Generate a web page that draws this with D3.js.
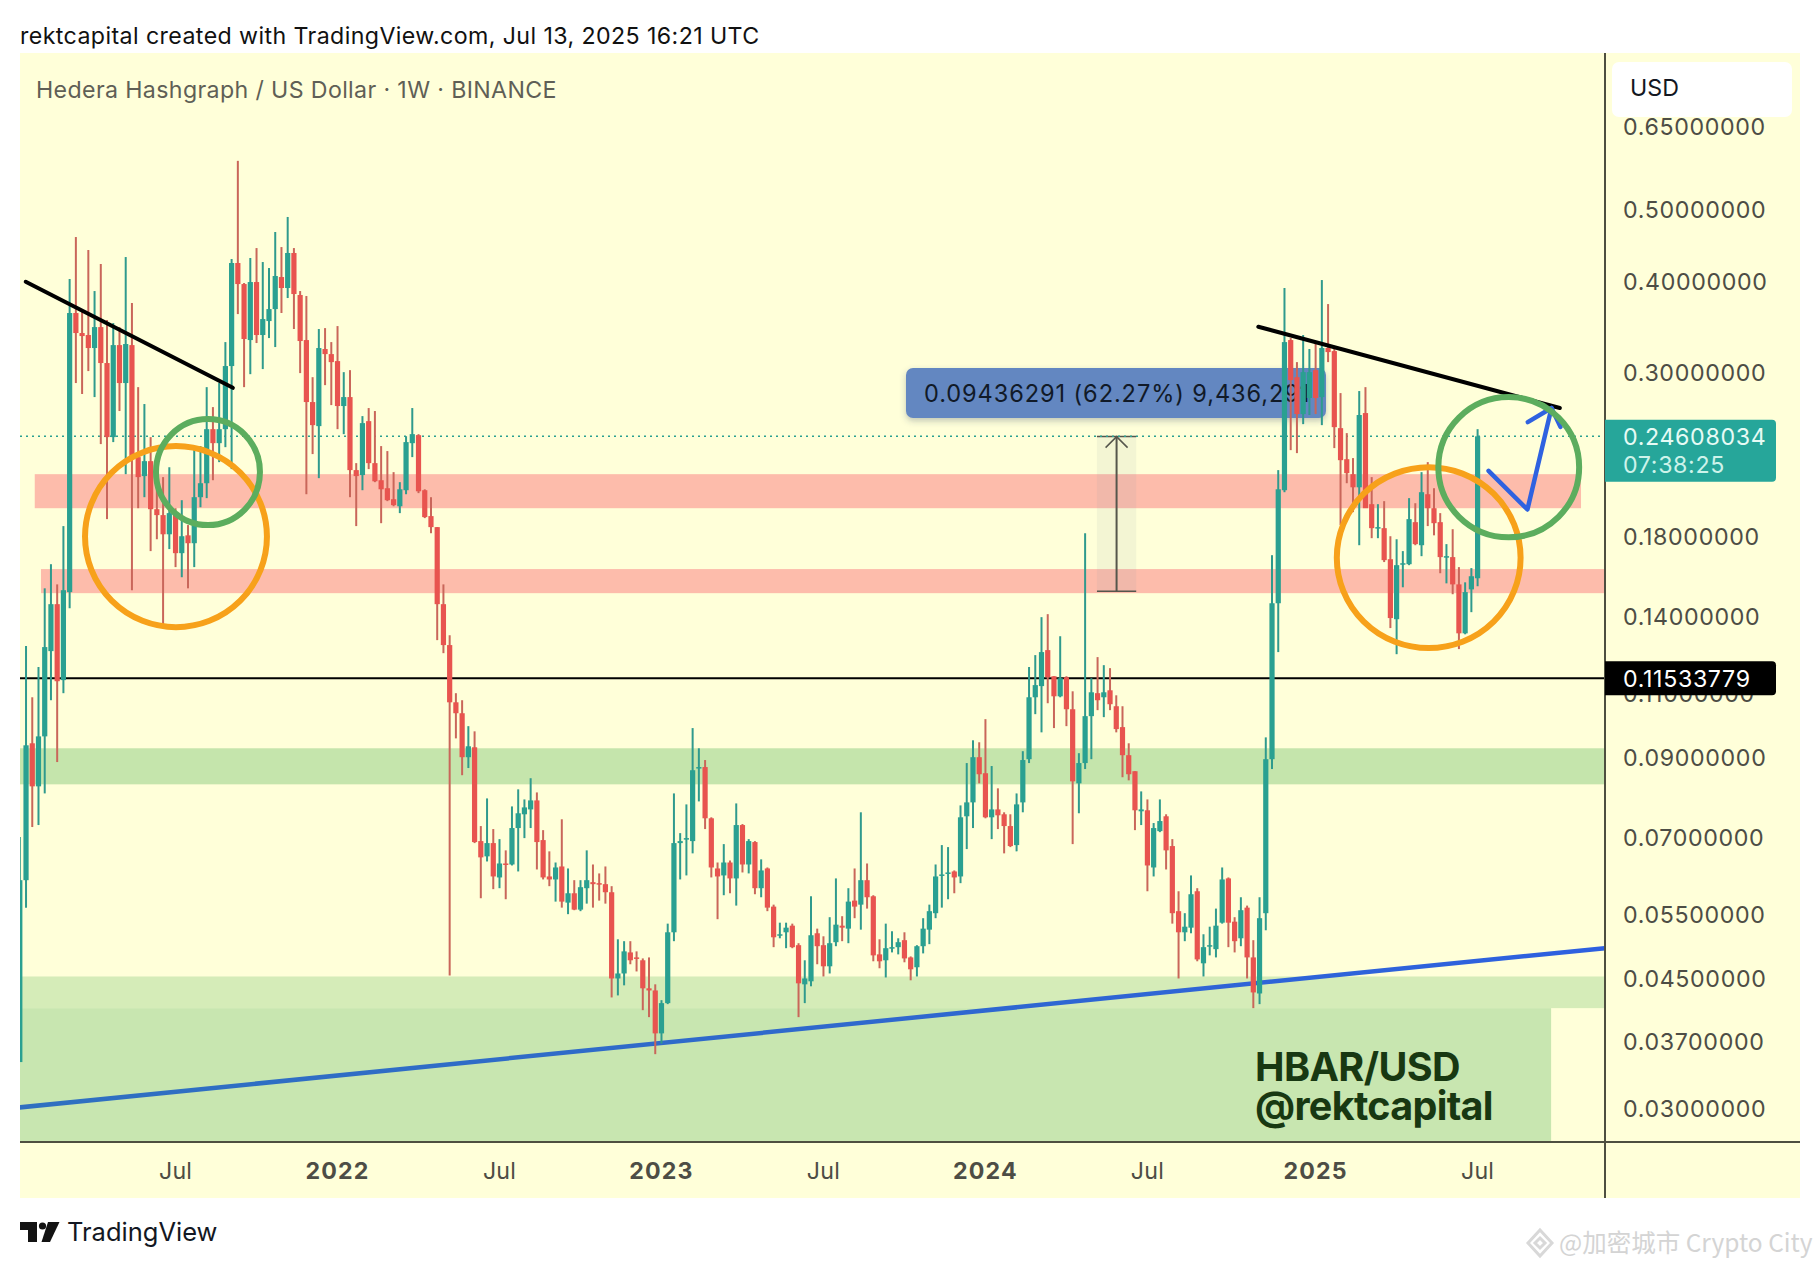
<!DOCTYPE html>
<html>
<head>
<meta charset="utf-8">
<script src="https://cdn.jsdelivr.net/npm/d3@7"></script>
<style>
  body { margin: 0; background: #fff; }
  text { font-family: Inter, "Noto Sans", sans-serif; }
</style>
</head>
<body>
<svg id="chart"></svg>
<script>
// weekly HBAR/USD candles, first week is Jan 11 2021
const opens = [
  .03468,.0613,.09411,.08224,.09617,.1256,.1455,.1147,.1511,.3621,
  .3401,.3380,.3245,.3465,.3096,.2455,.3275,.2908,.3275,.2306,
  .2173,.2277,.1959,.1923,.1811,.1935,.1707,.1805,.1761,.2034,
  .2125,.2517,.2409,.2517,.3067,.4235,.3965,.3327,.3990,.3380,
  .3531,.3666,.4053,.3916,.4370,.3831,.3327,.2740,.2541,.3235,
  .3184,.3115,.2706,.2783,.2214,.2180,.2581,.2263,.2145,.2092,
  .2021,.1977,.2079,.2409,.2470,.2079,.1917,.1852,.1455,.1280,
  .1070,.1034,.0901,.09294,.06928,.06605,.06885,.06183,.06459,.06439,
  .07217,.07535,.07651,.0787,.0695,.06202,.06144,.06399,.05714,.05884,
  .0559,.05978,.06092,.06073,.06054,.05903,.04506,.04577,.04889,.04813,
  .0477,.04369,.0434,.03794,.04171,.05207,.06885,.06971,.06928,.08709,
  .08736,.07441,.06359,.06222,.06479,.06164,.07285,.06439,.06907,.05978,
  .06359,.05643,.05159,.05207,.05316,.05001,.04424,.04466,.05191,.05001,
  .04681,.05048,.05316,.05267,.0575,.05678,.0613,.05829,.04859,.0477,
  .04954,.0497,.0508,.04813,.04667,.04985,.0525,.05528,.06222,.06261,
  .0630,.06202,.07488,.07821,.0901,.08569,.07464,.07651,.07535,.07262,
  .06842,.07821,.08954,.1087,.11257,.1260,.1161,.10903,.11573,.1047,
  .08302,.08846,.10246,.1101,.1087,.1111,.10569,.0990,.09067,.08623,
  .07606,.0763,.06379,.07148,.07488,.06821,.05563,.05207,.05283,.05921,
  .04725,.04985,.04939,.05366,.06164,.05383,.0511,.05625,.04813,.04299,
  .05528,.08954,.14592,.2079,.3327,.2962,.2639,.2775,.3028,.2783,
  .3245,.3214,.2525,.2291,.2186,.2098,.2647,.1990,.1846,.1846,
  .1675,.1388,.1649,.1649,.1881,.1750,.2053,.1965,.1881,.1686,
  .1686,.1548,.1328,.1524,.1578,
];
const highs = [
  .07015,.1276,.1087,.1195,.1529,.1649,.1548,.1858,.4028,.4594,
  .3655,.4411,.3879,.4222,.3542,.3509,.3465,.4315,.3736,.2871,
  .2723,.2455,.2335,.2166,.2234,.1965,.2015,.1864,.2357,.2387,
  .2871,.2697,.2908,.3306,.4288,.5832,.3978,.4302,.4438,.4248,
  .4169,.4667,.4452,.4892,.4438,.3879,.3819,.2962,.3444,.3454,
  .3306,.3476,.3009,.3028,.2263,.2622,.2689,.2664,.2387,.2350,
  .2200,.2132,.2462,.2689,.2478,.2085,.2034,.1852,.1548,.1320,
  .1101,.1077,.0993,.0977,.07262,.07919,.07194,.06971,.0673,.07723,
  .08147,.07894,.08436,.08069,.0717,.06709,.06479,.07418,.06359,.0613,
  .0613,.0673,.06439,.06261,.06399,.06016,.05094,.05064,.05064,.04905,
  .04798,.04813,.04424,.0421,.0535,.08044,.07103,.07772,.0987,.09265,
  .0893,.07464,.06479,.06863,.0652,.07796,.07308,.06971,.06928,.06543,
  .06379,.05678,.05366,.05366,.0535,.05032,.0477,.05829,.05267,.05142,
  .05459,.06164,.05476,.05978,.06359,.07582,.06459,.05848,.05094,.0535,
  .05224,.0511,.05207,.04828,.05001,.05442,.05678,.06439,.06842,.06799,
  .0632,.07748,.08846,.0950,.09441,.1015,.08764,.08173,.07582,.07535,
  .08044,.09181,.1195,.12404,.1397,.14102,.1161,.1316,.1161,.11075,
  .09124,.18168,.11537,.12327,.1202,.11908,.10937,.10569,.09411,.08623,
  .08095,.07894,.07331,.07894,.07535,.06971,.05921,.05528,.06222,.05978,
  .05175,.05299,.05608,.06379,.06183,.05459,.05811,.05661,.0508,.05811,
  .09587,.16962,.2214,.3916,.3348,.3105,.3380,.3235,.3296,.4015,
  .3724,.3265,.2818,.2486,.2299,.2836,.2871,.2166,.1990,.2009,
  .1800,.1783,.1718,.2028,.1996,.2200,.2270,.2092,.1935,.1756,
  .1840,.1634,.1558,.1629,.2517,
];
const lows = [
  .03468,.05625,.0724,.07285,.08044,.1077,.08874,.1101,.1437,.2908,
  .2810,.3019,.2783,.2402,.1899,.2417,.2664,.2186,.1520,.1965,
  .2034,.1718,.1783,.1354,.1729,.1634,.1583,.1529,.1634,.1971,
  .2028,.2145,.2270,.2379,.2221,.3609,.2871,.2990,.3296,.3038,
  .3348,.3255,.3621,.3795,.3444,.3000,.2053,.2328,.2159,.2889,
  .2714,.2517,.2478,.2034,.1858,.2079,.2221,.2132,.1875,.2009,
  .1977,.1935,.2053,.2306,.2060,.1905,.1817,.1300,.1248,.04548,
  .09557,.08516,.08709,.06885,.05793,.0650,.0596,.05978,.05775,.06419,
  .0630,.06993,.07217,.06339,.06144,.06016,.05732,.05625,.05511,.0558,
  .05563,.05696,.05625,.0575,.05696,.04246,.04273,.0441,.04711,.04606,
  .0408,.03992,.03555,.03675,.04158,.05064,.06144,.06222,.06667,.07845,
  .07194,.06183,.05425,.05848,.05884,.05661,.0628,.06261,.05866,.05811,
  .05563,.0497,.0511,.04954,.04954,.03992,.04171,.04397,.04711,.04534,
  .04577,.04985,.05064,.05032,.05442,.0525,.05608,.04755,.04652,.0452,
  .04889,.04859,.0474,.0448,.04534,.04874,.05017,.05442,.05625,.05775,
  .05884,.06073,.06757,.07217,.08302,.07441,.06971,.07194,.06667,.06799,
  .06709,.07582,.08846,.1031,.09739,.10669,.0987,.1087,.0993,.06863,
  .07559,.08682,.08954,.1044,.10214,.1044,.09739,.08462,.0838,.0717,
  .07285,.05921,.06202,.07125,.06339,.0535,.04506,.05064,.05191,.04755,
  .04534,.04844,.04813,.0535,.0497,.04889,.04985,.04506,.04106,.04158,
  .0524,.08682,.12522,.2066,.2357,.2335,.2557,.2631,.2639,.2549,
  .3105,.2372,.1864,.2125,.1941,.1750,.1977,.1789,.1789,.1660,
  .1350,.1244,.1534,.1644,.1750,.1691,.1858,.1805,.1603,.1553,
  .1501,.1264,.1324,.1419,.1539,
];
const closes = [
  .0613,.09352,.08224,.09617,.1272,.1455,.1143,.1520,.3621,.3401,
  .3369,.3245,.3465,.3096,.2455,.3275,.2908,.3286,.2306,.2166,
  .2277,.1959,.1923,.1811,.1935,.1707,.1800,.1761,.2034,.2125,
  .2517,.2409,.2517,.3067,.4235,.3965,.3338,.3990,.3380,.3553,
  .3666,.4066,.3916,.4370,.3843,.3317,.2740,.2549,.3245,.3184,
  .3105,.2706,.2783,.2214,.2173,.2565,.2263,.2138,.2085,.2015,
  .1984,.2085,.2417,.2478,.2072,.1911,.1852,.1455,.1280,.1070,
  .1034,.0901,.09323,.06907,.06584,.06885,.06202,.06459,.06439,.07217,
  .07559,.07699,.0787,.06907,.06183,.06144,.06379,.05732,.05884,.0559,
  .05997,.0613,.06054,.06054,.05903,.04506,.04577,.04905,.0477,.04798,
  .04369,.0434,.03794,.04171,.05207,.06885,.06928,.06993,.0865,.08736,
  .07441,.06379,.06202,.06479,.06164,.07285,.06439,.06928,.05978,.0632,
  .05625,.05126,.05175,.05283,.0497,.04438,.04506,.05159,.04985,.04681,
  .05032,.05333,.05283,.05732,.05643,.0613,.05811,.04844,.04755,.04954,
  .0497,.05048,.04798,.04637,.04985,.05267,.05563,.06202,.06241,.0628,
  .06183,.07464,.07821,.0901,.08542,.07464,.07651,.07511,.07262,.06821,
  .07772,.0893,.1087,.11292,.12522,.11573,.10903,.11537,.1047,.08354,
  .08846,.10246,.11041,.1077,.11041,.10636,.09839,.09067,.08542,.0763,
  .07651,.06419,.07217,.07377,.0673,.05528,.05207,.05299,.05866,.04783,
  .0497,.05001,.05316,.06144,.05366,.05064,.0558,.04813,.04313,.05442,
  .08954,.14592,.2085,.3306,.2935,.2639,.3009,.3009,.2775,.3245,
  .3204,.2533,.2284,.2193,.2098,.2631,.1965,.1846,.1852,.1670,
  .1393,.1644,.1654,.1899,.1756,.2066,.1965,.1875,.1686,.1691,
  .1548,.1328,.1511,.1588,.24608,
];

const priceTicks = [0.65, 0.5, 0.4, 0.3, 0.18, 0.14, 0.11, 0.09, 0.07, 0.055, 0.045, 0.037, 0.03];
const timeTickWeeks = [25, 51, 77, 103, 129, 155, 181, 208, 234];
const timeTickLabels = ["Jul", "2022", "Jul", "2023", "Jul", "2024", "Jul", "2025", "Jul"];

const lastPrice = 0.24608034;
const levelPrice = 0.11533779;

// zones: [week from, week to, price top, price bottom]
const zoneTopRed = [2.4, 250.6, 0.2186, 0.1965];
const zoneLowRed = [3.4, 254.4, 0.1624, 0.1506];
const zoneGreen = [0, 254.4, 0.09265, 0.08276];
const zoneLightGreen = [0, 254.4, 0.04534, 0.04106];
const zoneBottomGreen = [0, 245.8, 0.04106, 0.02];

// drawn lines as [week, price]
const trendBlue = [[0, 0.03009], [254.4, 0.04954]];
const trendLeft = [[0.95, 0.3994], [34.2, 0.2865]];
const trendRight = [[198.8, 0.3469], [247.2, 0.2689]];
const pathArrow = [[235.76, 0.2209], [242, 0.1957], [245.86, 0.2689]];
const pathArrowHead = [[242.05, 0.2573], [245.86, 0.2689], [247.3, 0.2535]];

// ellipses: [left week, right week, top price, bottom price]
const ringOrangeLeft = [10.47, 39.67, 0.2387, 0.1354];
const ringGreenLeft = [21.86, 38.55, 0.2598, 0.1864];
const ringOrangeRight = [211.4, 240.9, 0.2234, 0.1268];
const ringGreenRight = [227.7, 250.3, 0.2783, 0.1794];

// price range tool: [left week, right week, top price, bottom price]
const measureBox = [172.9, 179.2, 0.2459, 0.1515];

const width = 1820;
const height = 1268;
const panel = { left: 20, right: 1800, top: 53, bottom: 1198 };
const plot = { left: 20, right: 1605, top: 53, bottom: 1142 };

const axisColor = "#4e4f40";
const labelColor = "#4d4d45";
const up = "#2aa091";
const down = "#e8544f";
const upWick = "#2f9a8d";
const downWick = "#c9665a";

const svg = d3.select("#chart").attr("width", width).attr("height", height);

const xScale = d3.scaleLinear().domain([0, 234]).range([19.8, 1477.6]);
const yScale = d3.scaleLog().domain([0.8175, 0.027]).range([plot.top, plot.bottom]);

const defs = svg.append("defs");
defs.append("clipPath").attr("id", "plotClip").append("rect")
  .attr("x", plot.left).attr("y", plot.top)
  .attr("width", plot.right - plot.left).attr("height", plot.bottom - plot.top);

const blueGradient = defs.append("linearGradient")
  .attr("id", "blueTrend").attr("gradientUnits", "userSpaceOnUse")
  .attr("x1", plot.left).attr("x2", plot.right).attr("y1", 0).attr("y2", 0);
blueGradient.append("stop").attr("offset", "0%").attr("stop-color", "#2f70c0");
blueGradient.append("stop").attr("offset", "50%").attr("stop-color", "#2f69cc");
blueGradient.append("stop").attr("offset", "100%").attr("stop-color", "#2e60e0");

const labelShadow = defs.append("filter").attr("id", "labelShadow")
  .attr("x", "-5%").attr("y", "-20%").attr("width", "110%").attr("height", "150%");
labelShadow.append("feDropShadow").attr("dx", 0).attr("dy", 3).attr("stdDeviation", 3)
  .attr("flood-color", "#3b4a66").attr("flood-opacity", 0.3);

svg.append("text").attr("x", 20).attr("y", 44)
  .attr("font-size", 23.2).attr("letter-spacing", 0.4).attr("fill", "#111")
  .text("rektcapital created with TradingView.com, Jul 13, 2025 16:21 UTC");

svg.append("rect").attr("x", panel.left).attr("y", panel.top)
  .attr("width", panel.right - panel.left).attr("height", panel.bottom - panel.top)
  .attr("fill", "#ffffd9");

const chart = svg.append("g").attr("clip-path", "url(#plotClip)");

const drawZone = (zone, color) => {
  const [x0, x1, top, bottom] = zone;
  chart.append("rect")
    .attr("x", xScale(x0)).attr("width", xScale(x1) - xScale(x0))
    .attr("y", yScale(top)).attr("height", yScale(bottom) - yScale(top))
    .attr("fill", color);
};
drawZone(zoneTopRed, "#fdbcab");
drawZone(zoneLowRed, "#fdbcab");
drawZone(zoneGreen, "#c5e5ac");
drawZone(zoneLightGreen, "#d5ecb8");
drawZone(zoneBottomGreen, "#c8e6b0");

const line = d3.line().x((d) => xScale(d[0])).y((d) => yScale(d[1]));

// price range tool sits under the candles
const [mx0, mx1, mTop, mBottom] = measureBox;
const mCenter = (xScale(mx0) + xScale(mx1)) / 2;
chart.append("rect")
  .attr("x", xScale(mx0)).attr("width", xScale(mx1) - xScale(mx0))
  .attr("y", yScale(mTop)).attr("height", yScale(mBottom) - yScale(mTop))
  .attr("fill", "#8a9aa8").attr("fill-opacity", 0.1);
chart.append("line").attr("x1", mCenter).attr("x2", mCenter)
  .attr("y1", yScale(mTop)).attr("y2", yScale(mBottom))
  .attr("stroke", "#55564c").attr("stroke-width", 2);
[mTop, mBottom].forEach((p) => {
  chart.append("line").attr("x1", xScale(mx0)).attr("x2", xScale(mx1))
    .attr("y1", yScale(p)).attr("y2", yScale(p))
    .attr("stroke", "#55564c").attr("stroke-width", 1.5);
});
chart.append("path")
  .attr("d", `M${mCenter - 11},${yScale(mTop) + 11}L${mCenter},${yScale(mTop)}L${mCenter + 11},${yScale(mTop) + 11}`)
  .attr("fill", "none").attr("stroke", "#55564c").attr("stroke-width", 1.5);

chart.append("rect")
  .attr("x", 906).attr("y", 368).attr("width", 420).attr("height", 50).attr("rx", 7)
  .attr("fill", "#6487c1").attr("filter", "url(#labelShadow)");
chart.append("text").attr("x", 924).attr("y", 402)
  .attr("font-size", 23.6).attr("letter-spacing", 0.9).attr("fill", "#111a28")
  .text("0.09436291 (62.27%) 9,436,291");

chart.append("line")
  .attr("x1", plot.left).attr("x2", plot.right)
  .attr("y1", yScale(lastPrice)).attr("y2", yScale(lastPrice))
  .attr("stroke", up).attr("stroke-width", 1.5).attr("stroke-dasharray", "2,4");

chart.append("path").attr("d", line(trendBlue))
  .attr("fill", "none").attr("stroke", "url(#blueTrend)").attr("stroke-width", 4.5);

chart.append("line")
  .attr("x1", plot.left).attr("x2", plot.right)
  .attr("y1", yScale(levelPrice)).attr("y2", yScale(levelPrice))
  .attr("stroke", "#000").attr("stroke-width", 2);

const weeks = d3.range(opens.length);

chart.selectAll(".wick").data(weeks).enter().append("line")
  .attr("class", "wick")
  .attr("x1", (i) => xScale(i)).attr("x2", (i) => xScale(i))
  .attr("y1", (i) => yScale(highs[i])).attr("y2", (i) => yScale(lows[i]))
  .attr("stroke", (i) => (closes[i] >= opens[i] ? upWick : downWick))
  .attr("stroke-width", 2);

chart.selectAll(".body").data(weeks).enter().append("rect")
  .attr("class", "body")
  .attr("x", (i) => xScale(i) - 2.6).attr("width", 5.2)
  .attr("y", (i) => yScale(Math.max(opens[i], closes[i])))
  .attr("height", (i) => Math.max(1.5, Math.abs(yScale(opens[i]) - yScale(closes[i]))))
  .attr("fill", (i) => (closes[i] >= opens[i] ? up : down));

const annotations = svg.append("g").attr("clip-path", "url(#plotClip)");

const drawLine = (points, color, w) => {
  annotations.append("path").attr("d", line(points))
    .attr("fill", "none").attr("stroke", color).attr("stroke-width", w)
    .attr("stroke-linecap", "round").attr("stroke-linejoin", "round");
};
drawLine(trendLeft, "#000", 4);
drawLine(trendRight, "#000", 4);
drawLine(pathArrow, "#2f62e0", 4.5);
drawLine(pathArrowHead, "#2f62e0", 4.5);

const drawRing = (ring, color) => {
  const [x0, x1, top, bottom] = ring;
  annotations.append("ellipse")
    .attr("cx", (xScale(x0) + xScale(x1)) / 2)
    .attr("cy", (yScale(top) + yScale(bottom)) / 2)
    .attr("rx", (xScale(x1) - xScale(x0)) / 2)
    .attr("ry", (yScale(bottom) - yScale(top)) / 2)
    .attr("fill", "none").attr("stroke", color).attr("stroke-width", 6);
};
drawRing(ringOrangeLeft, "#f7a11a");
drawRing(ringOrangeRight, "#f7a11a");
drawRing(ringGreenLeft, "#5cad5e");
drawRing(ringGreenRight, "#5cad5e");

annotations.append("text").attr("x", 1255).attr("y", 1081)
  .attr("font-size", 39.5).attr("font-weight", 700).attr("letter-spacing", -0.6).attr("fill", "#183812")
  .text("HBAR/USD");
annotations.append("text").attr("x", 1255).attr("y", 1120)
  .attr("font-size", 39.5).attr("font-weight", 700).attr("letter-spacing", -0.7).attr("fill", "#183812")
  .text("@rektcapital");

svg.append("text").attr("x", 36).attr("y", 98)
  .attr("font-size", 23.2).attr("letter-spacing", 0.36).attr("fill", "#5f5f56")
  .text("Hedera Hashgraph / US Dollar · 1W · BINANCE");

// axes frame
svg.append("line").attr("x1", panel.left).attr("x2", panel.right)
  .attr("y1", plot.bottom).attr("y2", plot.bottom)
  .attr("stroke", axisColor).attr("stroke-width", 2);
svg.append("line").attr("x1", plot.right).attr("x2", plot.right)
  .attr("y1", panel.top).attr("y2", panel.bottom)
  .attr("stroke", axisColor).attr("stroke-width", 2);

svg.selectAll(".price-tick").data(priceTicks).enter().append("text")
  .attr("class", "price-tick")
  .attr("x", 1623).attr("y", (d) => yScale(d))
  .attr("dy", "0.36em")
  .attr("font-size", 23.2).attr("letter-spacing", 0.65).attr("fill", labelColor)
  .text((d) => d.toFixed(8));

svg.selectAll(".time-tick").data(timeTickWeeks).enter().append("text")
  .attr("class", "time-tick")
  .attr("x", (d) => xScale(d)).attr("y", 1171).attr("dy", "0.36em")
  .attr("text-anchor", "middle")
  .attr("font-size", 23.2)
  .attr("letter-spacing", (d, i) => (/^\d/.test(timeTickLabels[i]) ? 1.2 : 0.2))
  .attr("font-weight", (d, i) => (/^\d/.test(timeTickLabels[i]) ? 700 : 400))
  .attr("fill", labelColor)
  .text((d, i) => timeTickLabels[i]);

// USD button and price labels
svg.append("rect").attr("x", 1612).attr("y", 62).attr("width", 180).attr("height", 55)
  .attr("rx", 7).attr("fill", "#fff");
svg.append("text").attr("x", 1630).attr("y", 96)
  .attr("font-size", 23.2).attr("fill", "#131722").text("USD");

const priceLabel = (y0, h, fill) => {
  svg.append("path")
    .attr("d", `M1605,${y0}H1772q4,0 4,4V${y0 + h - 4}q0,4 -4,4H1605Z`)
    .attr("fill", fill);
};
const lastY = yScale(lastPrice);
priceLabel(lastY - 16.5, 62, "#26a69a");
svg.append("text").attr("x", 1623).attr("y", lastY).attr("dy", "0.36em")
  .attr("font-size", 23.2).attr("letter-spacing", 0.65).attr("fill", "#e6fbf5")
  .text(lastPrice.toFixed(8));
svg.append("text").attr("x", 1623).attr("y", lastY + 28).attr("dy", "0.36em")
  .attr("font-size", 23.2).attr("letter-spacing", 0.65).attr("fill", "#cdf3ea")
  .text("07:38:25");

const levelY = yScale(levelPrice);
priceLabel(levelY - 17, 34, "#000");
svg.append("text").attr("x", 1623).attr("y", levelY).attr("dy", "0.36em")
  .attr("font-size", 23.2).attr("letter-spacing", 0.65).attr("fill", "#fff")
  .text(levelPrice.toFixed(8));

// TradingView mark and name
const logo = svg.append("g").attr("fill", "#131313");
logo.append("path").attr("d", "M20,1222H37V1242H28V1230H20Z");
logo.append("circle").attr("cx", 42.5).attr("cy", 1226).attr("r", 3.6);
logo.append("path").attr("d", "M48,1222H59.5L50,1242H41.5Z");
svg.append("text").attr("x", 67).attr("y", 1241)
  .attr("font-size", 25.5).attr("fill", "#131722").text("TradingView");

// watermark
const mark = svg.append("g").attr("fill", "none").attr("stroke", "#d8d8d8").attr("stroke-width", 3);
mark.append("path").attr("d", "M1540,1230L1552,1243L1540,1256L1528,1243Z");
mark.append("path").attr("d", "M1540,1238L1545,1243L1540,1248L1535,1243Z");
svg.append("text").attr("x", 1559).attr("y", 1252)
  .attr("style", 'font-family:"Noto Sans CJK SC",sans-serif')
  .attr("font-size", 24.5).attr("fill", "#d4d4d4")
  .text("@加密城市 Crypto City");
</script>
</body>
</html>
